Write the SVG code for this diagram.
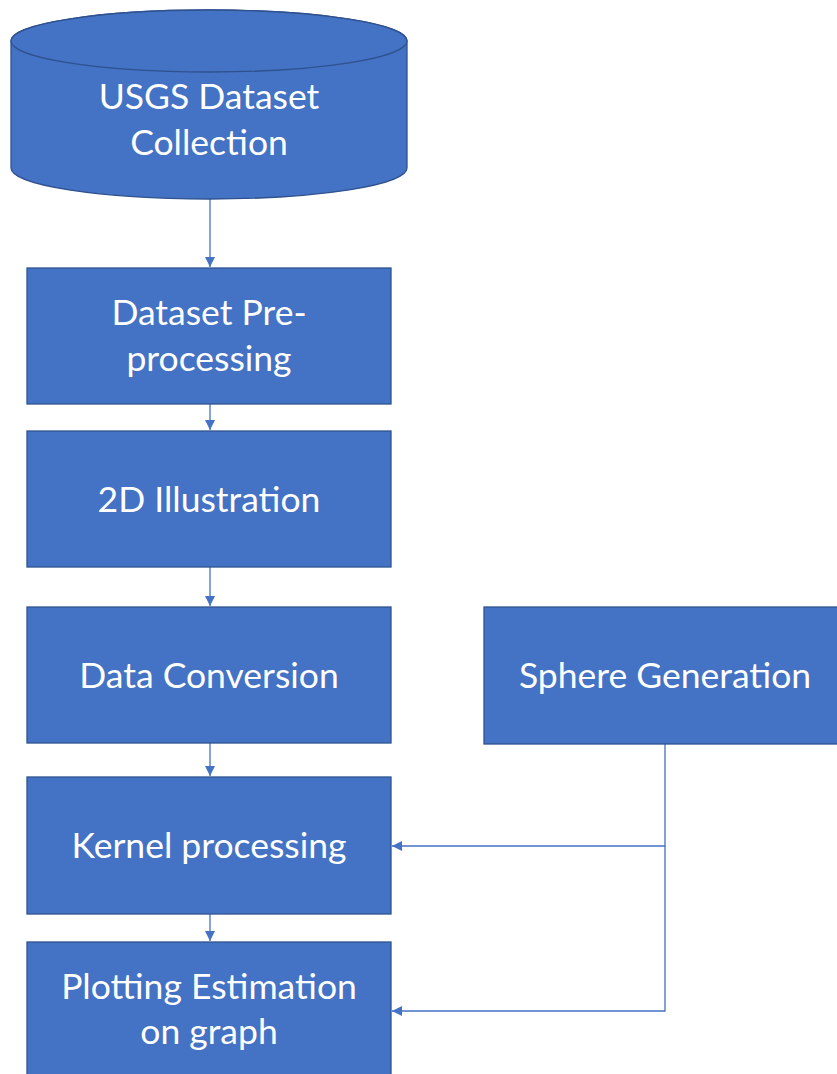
<svg xmlns="http://www.w3.org/2000/svg" width="837" height="1074" viewBox="0 0 837 1074">
<style>
.n{fill:#4472C4;stroke:#2F528F;stroke-width:1.3}
.t{fill:#ffffff;font-family:Lato,"Liberation Sans",sans-serif;font-size:35.5px;text-anchor:middle}
.c{fill:none;stroke:#4472C4;stroke-width:1.3}
</style>
<defs>
<marker id="a" viewBox="0 0 10 10" refX="10" refY="5" markerWidth="10" markerHeight="10" markerUnits="userSpaceOnUse" orient="auto">
<path d="M0,0L10,5L0,10z" fill="#4472C4"/>
</marker>
</defs>
<rect width="837" height="1074" fill="#ffffff"/>
<g id="connectors">
<line class="c" x1="210" y1="199" x2="210" y2="267" marker-end="url(#a)"/>
<line class="c" x1="210" y1="404" x2="210" y2="430" marker-end="url(#a)"/>
<line class="c" x1="210" y1="567" x2="210" y2="606" marker-end="url(#a)"/>
<line class="c" x1="210" y1="743" x2="210" y2="776" marker-end="url(#a)"/>
<line class="c" x1="210" y1="914" x2="210" y2="941" marker-end="url(#a)"/>
<polyline class="c" points="665,744 665,846 392,846" marker-end="url(#a)"/>
<polyline class="c" points="665,846 665,1011 392,1011" marker-end="url(#a)"/>
</g>
<g id="usgs">
<path class="n" d="M11,41 L11,168 A198,31 0 0 0 407,168 L407,41 A198,31 0 0 0 11,41 Z"/>
<ellipse class="n" cx="209" cy="41" rx="198" ry="31"/>
<text class="t" x="209" y="109">USGS Dataset</text>
<text class="t" x="209" y="155">Collection</text>
</g>
<g id="preprocessing">
<rect class="n" x="27" y="268" width="364" height="136"/>
<text class="t" x="209" y="325">Dataset Pre-</text>
<text class="t" x="209" y="371">processing</text>
</g>
<g id="illustration">
<rect class="n" x="27" y="431" width="364" height="136"/>
<text class="t" x="209" y="512">2D Illustration</text>
</g>
<g id="conversion">
<rect class="n" x="27" y="607" width="364" height="136"/>
<text class="t" x="209" y="688">Data Conversion</text>
</g>
<g id="sphere">
<rect class="n" x="484" y="607" width="364" height="137"/>
<text class="t" x="665" y="688">Sphere Generation</text>
</g>
<g id="kernel">
<rect class="n" x="27" y="777" width="364" height="137"/>
<text class="t" x="209" y="858">Kernel processing</text>
</g>
<g id="plotting">
<rect class="n" x="27" y="942" width="364" height="140"/>
<text class="t" x="209" y="999">Plotting Estimation</text>
<text class="t" x="209" y="1044">on graph</text>
</g>
</svg>
